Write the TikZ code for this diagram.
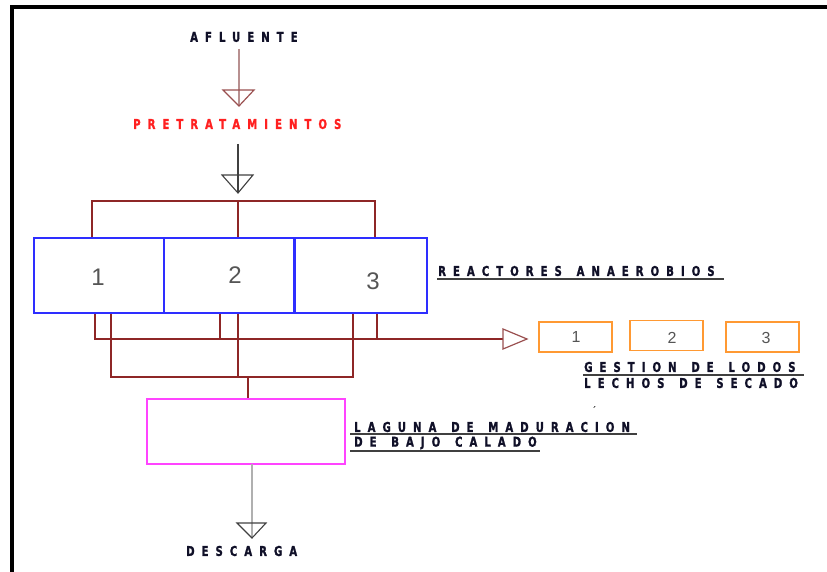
\documentclass[tikz,border=0pt]{standalone}
\usepackage{fontspec}
\setmainfont{DejaVu Sans}
\newfontfamily\lblfont{DejaVu Sans}[LetterSpace=52, FakeStretch=0.75, WordSpace=1.4, BoldFeatures={FakeBold=1.3}]
\newfontfamily\numfont{Liberation Sans}
\usetikzlibrary{calc}
\definecolor{ink}{HTML}{101028}
\definecolor{brn}{HTML}{8E2626}
\definecolor{brnlight}{HTML}{B89090}
\definecolor{brnhead}{HTML}{9A5050}
\definecolor{rblue}{HTML}{2E2EFF}
\definecolor{orng}{HTML}{FF9933}
\definecolor{mgnt}{HTML}{FF44FF}
\definecolor{rred}{HTML}{FF2020}
\definecolor{dgray}{HTML}{404040}
\definecolor{lgray}{HTML}{B0B0B0}
\definecolor{numgray}{HTML}{555555}
\tikzset{
  lbl/.style={font=\lblfont\bfseries\fontsize{13.5}{15}\selectfont, text=ink, inner sep=0pt, anchor=west},
  uline/.style={draw=dgray, line width=1.4pt},
  reactor/.style={draw=rblue, line width=1.5pt, minimum height=75pt, inner sep=0pt},
  sludgebox/.style={draw=orng, line width=1.5pt, minimum width=73pt, minimum height=30pt, inner sep=0pt},
  bignum/.style={font=\numfont\fontsize{24}{26}\selectfont, text=numgray, inner sep=0pt},
  smallnum/.style={font=\numfont\fontsize{16}{18}\selectfont, text=numgray, inner sep=0pt},
  brnline/.style={draw=brn, line width=1.4pt},
}
\begin{document}
\begin{tikzpicture}[x=1pt,y=-1pt]
\useasboundingbox (0,0) rectangle (827,572);
% frame
\draw[line width=4pt, line join=miter] (12,572) -- (12,7) -- (827,7);

% texts
\node[lbl] (af) at (190,37) {AFLUENTE};
\node[lbl, text=rred] (pre) at (133,124) {PRETRATAMIENTOS};
\node[lbl] (rea) at (438,271) {REACTORES ANAEROBIOS};
\node[lbl] (ges) at (584,367) {GESTION DE LODOS};
\node[lbl] (lec) at (584,383) {LECHOS DE SECADO};
\node[lbl] (lag) at (354,427) {LAGUNA DE MADURACION};
\node[lbl] (baj) at (354,443) {DE BAJO CALADO};
\node[lbl] (des) at (186,551) {DESCARGA};
\node[inner sep=0pt, font=\fontsize{10}{10}\selectfont] (acc) at (594,410) {´};

% underlines
\draw[uline] (437,279) -- (724,279);
\draw[uline] (583,375) -- (804,375);
\draw[uline] (350,434) -- (637,434);
\draw[uline] (350,451) -- (540,451);

% reactors
\node[reactor, minimum width=130pt] (r1) at (99,275.5) {};
\node[reactor, minimum width=131pt] (r2) at (229.5,275.5) {};
\node[reactor, minimum width=132pt] (r3) at (361,275.5) {};
\draw[rblue, line width=2.3pt] (r3.north west) -- (r3.south west);
\node[bignum] (n1) at (98,277) {1};
\node[bignum] (n2) at (235,275) {2};
\node[bignum] (n3) at (373,281) {3};

% sludge beds
\node[sludgebox] (o1) at (575.5,337) {};
\node[sludgebox] (o2) at (666.5,335.5) {};
\node[sludgebox] (o3) at (762.5,337) {};
\node[smallnum] (m1) at (576,337) {1};
\node[smallnum] (m2) at (672,338) {2};
\node[smallnum] (m3) at (766,338) {3};

% lagoon
\node[draw=mgnt, line width=1.5pt, minimum width=198pt, minimum height=65pt, inner sep=0pt] (lg) at (246,431.5) {};

% arrow 1
\coordinate (a1s) at (239,49);
\coordinate (a1t) at (239,106);
\draw[brnlight, line width=1.5pt] (a1s) -- (a1t);
\draw[brnhead, line width=1.2pt, line join=miter] (a1t) -- ++(-16,-16) -- ++(31,0) -- cycle;

% arrow 2
\coordinate (a2s) at (238,144);
\coordinate (a2t) at (238,193);
\draw[dgray, line width=1.3pt] (a2s) -- (a2t);
\draw[dgray, line width=1.1pt, line join=miter] (a2t) -- ++(-16,-18) -- ++(31,0) -- cycle;

% distribution to reactors
\coordinate (d1) at (92,201);
\coordinate (d2) at (238,201);
\coordinate (d3) at (375,201);
\draw[brnline] (d1 |- r1.north) -- (d1) -- (d3) -- (d3 |- r3.north);
\draw[brnline] (d2) -- (d2 |- r2.north);

% sludge collection
\coordinate (s1) at (95,339);
\coordinate (s2) at (220,339);
\coordinate (s3) at (377,339);
\coordinate (sb) at (503,339);
\coordinate (st) at (527,339);
\draw[brnline] (s1 |- r1.south) -- (s1) -- (sb);
\draw[brnline] (s2 |- r2.south) -- (s2);
\draw[brnline] (s3 |- r3.south) -- (s3);
\draw[brnhead, line width=1.2pt, line join=miter] (st) -- (sb |- 0,329) -- (sb |- 0,349) -- cycle;

% effluent to lagoon
\coordinate (e1) at (111,377);
\coordinate (e2) at (238,377);
\coordinate (e3) at (353,377);
\coordinate (em) at (248,377);
\draw[brnline] (e1 |- r1.south) -- (e1) -- (e3) -- (e3 |- r3.south);
\draw[brnline] (e2 |- r2.south) -- (e2);
\draw[brnline] (em) -- (em |- lg.north);

% discharge
\coordinate (ds) at (252,464);
\coordinate (dt) at (252,538);
\draw[lgray, line width=2pt] (ds) -- (dt);
\draw[dgray, line width=1.1pt, line join=miter] (dt) -- ++(-15,-15) -- ++(29,0) -- cycle;
\end{tikzpicture}
\end{document}
